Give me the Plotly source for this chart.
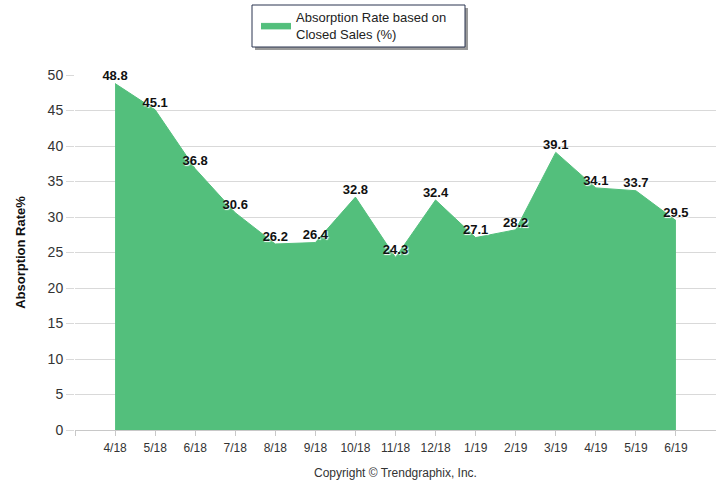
import plotly.graph_objects as go

months = ["4/18", "5/18", "6/18", "7/18", "8/18", "9/18", "10/18", "11/18",
          "12/18", "1/19", "2/19", "3/19", "4/19", "5/19", "6/19"]
absorption = [48.8, 45.1, 36.8, 30.6, 26.2, 26.4, 32.8, 24.3,
              32.4, 27.1, 28.2, 39.1, 34.1, 33.7, 29.5]
y_ticks = [0, 5, 10, 15, 20, 25, 30, 35, 40, 45, 50]

GREEN = "#53BF7C"
idx = list(range(len(months)))

W, H = 722, 485
L, R, T, B = 75, 6, 75, 55
PW, PH = W - L - R, H - T - B

def px_x(x):
    return (x - L) / PW

def px_y(y):
    return (H - B - y) / PH

fig = go.Figure()
fig.add_trace(go.Scatter(
    x=idx, y=absorption,
    mode="lines+text",
    fill="tozeroy",
    fillcolor=GREEN,
    line=dict(color=GREEN, width=1),
    text=[f"{v:.1f}" for v in absorption],
    textposition="top center",
    textfont=dict(family="Liberation Sans, Arial", size=13, color="#111111", weight="bold",
                  shadow="1px 1px 1px white"),
    name="Absorption Rate based on<br>Closed Sales (%)",
    showlegend=True,
    cliponaxis=False,
    hoverinfo="skip",
))

fig.update_layout(
    width=W, height=H,
    margin=dict(l=L, r=R, t=T, b=B, autoexpand=False),
    paper_bgcolor="white",
    plot_bgcolor="white",
    font=dict(family="Liberation Sans, Arial", color="#333333", size=12),
    showlegend=True,
    legend=dict(
        x=px_x(256), y=px_y(2),
        xanchor="left", yanchor="top",
        bgcolor="rgba(0,0,0,0)", borderwidth=0,
        font=dict(size=13, color="#222222"),
        orientation="v",
    ),
    xaxis=dict(
        range=[-1, 15],
        tickmode="array", tickvals=[-1] + idx, ticktext=[""] + months,
        tickangle=0,
        showgrid=False, zeroline=False,
        showline=True, linecolor="#c8c8c8", linewidth=1,
        ticks="outside", ticklen=5, tickcolor="#c8c8c8",
        ticklabelstandoff=2,
        tickfont=dict(size=12, color="#333333"),
        title=dict(text="Copyright © Trendgraphix, Inc.", font=dict(size=12, color="#333333"), standoff=14),
        fixedrange=True,
    ),
    yaxis=dict(
        range=[0, 50],
        tickmode="array", tickvals=y_ticks,
        showgrid=True, gridcolor="#d9d9d9", gridwidth=1,
        zeroline=False, showline=False,
        ticks="outside", ticklen=8, tickcolor="#d9d9d9",
        tickfont=dict(size=14, color="#333333"),
        title=dict(text="<b>Absorption Rate%</b>", font=dict(size=13, color="#111111"), standoff=19),
        fixedrange=True,
    ),
)

# legend frame with shadow
fig.add_shape(type="rect", xref="paper", yref="paper",
              x0=px_x(255), x1=px_x(468), y0=px_y(50), y1=px_y(8),
              fillcolor="#9a9a9a", line=dict(width=0), layer="below")
fig.add_shape(type="rect", xref="paper", yref="paper",
              x0=px_x(252), x1=px_x(465), y0=px_y(47), y1=px_y(5),
              fillcolor="white", line=dict(color="#2a3550", width=1), layer="below")

fig.write_html("out.html", config={"displayModeBar": False},
               post_script="document.body.style.margin='0';")
